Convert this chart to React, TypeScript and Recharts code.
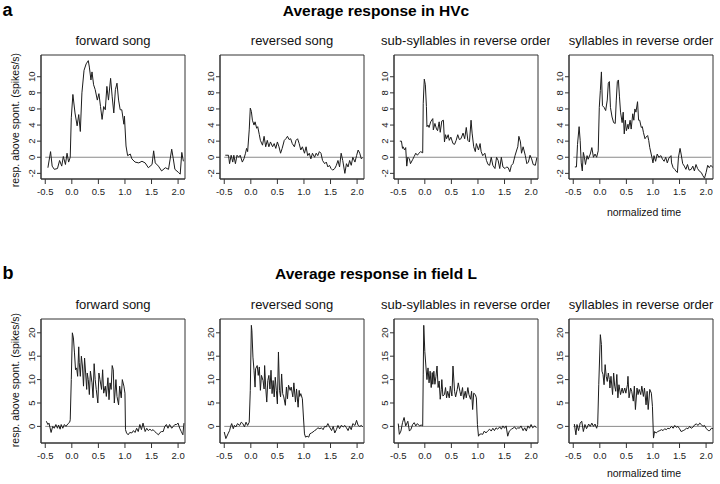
import { LineChart, Line, XAxis, YAxis, ReferenceLine, ReferenceArea } from "recharts"

// tick labels and panel titles
const timeTicks = [-0.5, 0, 0.5, 1, 1.5, 2]
const hvcTicks = [-2, 0, 2, 4, 6, 8, 10]
const fieldLTicks = [0, 5, 10, 15, 20]
const stimulusNames = ["forward song", "reversed song", "sub-syllables in reverse order", "syllables in reverse order"]

// [normalized time, response above spontaneous (spikes/s)]
// --- HVc ---
const hvcForward = [
  [-0.45, -1.3], [-0.4, 0.7], [-0.37, -1.1], [-0.33, -1.5], [-0.27, -1.4], [-0.23, -0.4], [-0.19, -1.1], [-0.16, 0.1],
  [-0.12, -0.9], [-0.09, 0.5], [-0.06, -0.6], [-0.03, 0.0], [-0.01, 4.9], [0.02, 7.8], [0.06, 5.5], [0.1, 3.9],
  [0.13, 5.3], [0.16, 3.2], [0.19, 8.0], [0.23, 10.8], [0.27, 11.6], [0.31, 12.0], [0.33, 11.2], [0.36, 9.6],
  [0.38, 10.6], [0.41, 9.0], [0.44, 8.4], [0.48, 7.1], [0.51, 7.9], [0.54, 6.3], [0.57, 4.7], [0.6, 6.3],
  [0.63, 5.9], [0.66, 8.8], [0.69, 7.1], [0.73, 9.8], [0.76, 7.5], [0.79, 5.5], [0.82, 8.4], [0.85, 9.2],
  [0.88, 7.1], [0.91, 5.9], [0.94, 5.9], [0.98, 4.1], [0.99, 5.1], [1.02, 1.4], [1.05, 0.2], [1.1, 0.4],
  [1.13, -0.2], [1.19, -0.6], [1.26, -0.7], [1.32, -0.5], [1.38, -0.7], [1.44, -1.3], [1.51, -0.9], [1.54, 0.8],
  [1.57, -0.7], [1.63, -1.1], [1.69, -1.7], [1.76, -1.3], [1.82, -1.5], [1.88, 1.0], [1.91, -0.2], [1.94, -1.5],
  [2.01, -1.9], [2.04, -2.1], [2.07, 0.6], [2.1, -0.5],
]
const hvcReversed = [
  [-0.48, 0.25], [-0.45, 0.25], [-0.42, 0.25], [-0.4, -0.8], [-0.37, 0.25], [-0.34, -0.6], [-0.32, 0.25], [-0.29, -0.8],
  [-0.26, 0.25], [-0.23, 0.0], [-0.2, 0.25], [-0.16, -0.6], [-0.13, -0.2], [-0.1, 0.5], [-0.08, 1.1], [-0.06, 0.7],
  [-0.03, 3.4], [-0.01, 6.1], [0.01, 5.7], [0.03, 4.6], [0.06, 4.0], [0.08, 4.4], [0.11, 3.6], [0.13, 3.8],
  [0.16, 2.8], [0.18, 2.1], [0.22, 1.5], [0.25, 2.6], [0.28, 1.3], [0.31, 2.1], [0.34, 1.3], [0.37, 1.9],
  [0.41, 1.3], [0.44, 1.7], [0.47, 1.1], [0.5, 1.9], [0.53, 1.3], [0.56, 0.5], [0.59, 1.1], [0.63, 2.1],
  [0.66, 2.3], [0.69, 2.6], [0.72, 2.2], [0.75, 2.3], [0.78, 1.7], [0.82, 1.3], [0.85, 2.1], [0.88, 2.3],
  [0.91, 1.7], [0.94, 0.9], [0.97, 1.3], [1.01, 0.5], [1.04, 1.3], [1.07, 0.2], [1.1, 0.5], [1.13, -0.2],
  [1.16, 0.5], [1.2, 0.0], [1.23, 0.5], [1.26, 0.2], [1.29, 0.7], [1.32, 0.5], [1.35, -0.4], [1.39, -0.8],
  [1.42, -0.6], [1.45, -1.2], [1.48, -1.0], [1.51, -1.4], [1.54, -1.6], [1.58, -1.4], [1.61, -1.0], [1.64, -0.4],
  [1.67, -1.2], [1.7, 0.5], [1.73, -0.4], [1.77, -2.0], [1.8, -0.8], [1.83, -1.2], [1.86, -0.4], [1.89, -1.0],
  [1.92, 0.0], [1.96, -0.6], [1.99, 0.2], [2.02, 0.9], [2.05, 0.5], [2.08, -0.2], [2.11, 0.0],
]
const hvcSubSyllables = [
  [-0.47, 2.0], [-0.44, 2.0], [-0.42, 1.1], [-0.41, 1.3], [-0.38, 0.9], [-0.36, 1.2], [-0.34, -1.1], [-0.32, 0.0],
  [-0.29, -0.2], [-0.27, -0.8], [-0.23, -0.3], [-0.2, 0.1], [-0.17, 0.5], [-0.14, 0.25], [-0.11, 0.5], [-0.08, 0.7],
  [-0.04, 0.55], [-0.03, 6.7], [-0.01, 9.7], [0.01, 9.0], [0.03, 6.3], [0.04, 3.8], [0.06, 4.0], [0.08, 3.7],
  [0.11, 4.4], [0.15, 4.8], [0.16, 3.4], [0.19, 4.2], [0.22, 3.5], [0.24, 3.3], [0.27, 4.4], [0.29, 3.1],
  [0.32, 4.5], [0.35, 4.6], [0.37, 1.9], [0.39, 2.8], [0.41, 2.3], [0.44, 2.8], [0.46, 2.1], [0.49, 2.5],
  [0.53, 1.7], [0.56, 1.6], [0.59, 2.1], [0.62, 2.8], [0.65, 2.2], [0.68, 2.3], [0.72, 3.0], [0.75, 2.3],
  [0.78, 3.7], [0.81, 2.1], [0.84, 1.9], [0.87, 4.6], [0.89, 3.0], [0.92, 1.3], [0.95, 0.7], [0.97, 1.7],
  [1.01, 0.9], [1.04, 1.7], [1.06, 0.7], [1.09, 0.2], [1.13, 0.5], [1.16, -0.4], [1.19, -0.9], [1.22, -1.0],
  [1.25, 0.0], [1.28, -1.0], [1.32, -1.4], [1.35, 0.0], [1.38, -0.4], [1.41, -1.4], [1.44, 0.0], [1.47, -1.2],
  [1.51, -1.4], [1.54, -1.2], [1.57, -1.3], [1.6, -1.8], [1.63, -1.0], [1.66, -0.8], [1.7, 0.25], [1.73, 0.9],
  [1.75, 1.3], [1.77, 2.6], [1.8, 1.9], [1.82, 0.5], [1.85, 1.3], [1.89, 0.25], [1.92, -0.8], [1.95, -0.6],
  [1.98, 0.25], [2.01, -0.2], [2.04, -0.9], [2.08, -1.0], [2.11, 0.0],
]
const hvcSyllables = [
  [-0.47, -1.2], [-0.44, -1.2], [-0.42, 1.6], [-0.39, 3.8], [-0.37, 2.1], [-0.35, -0.7], [-0.33, -1.7], [-0.31, 0.6],
  [-0.29, 0.0], [-0.27, -0.9], [-0.24, 0.2], [-0.22, -0.25], [-0.18, 0.4], [-0.15, 1.2], [-0.12, 0.0], [-0.09, 0.4],
  [-0.06, 0.0], [-0.03, 0.8], [-0.01, 6.2], [0.01, 8.3], [0.03, 10.6], [0.05, 6.4], [0.08, 6.2], [0.11, 5.8],
  [0.14, 7.1], [0.16, 9.2], [0.18, 9.4], [0.2, 6.2], [0.23, 5.0], [0.26, 4.3], [0.29, 4.2], [0.31, 7.1],
  [0.33, 9.4], [0.35, 9.6], [0.37, 7.5], [0.39, 5.6], [0.42, 4.3], [0.44, 5.6], [0.46, 2.9], [0.48, 4.6],
  [0.5, 3.3], [0.53, 4.1], [0.54, 3.5], [0.57, 4.6], [0.59, 3.5], [0.62, 5.4], [0.64, 4.6], [0.66, 6.0],
  [0.68, 5.6], [0.71, 6.9], [0.73, 4.6], [0.75, 4.6], [0.78, 3.7], [0.8, 3.8], [0.82, 3.1], [0.85, 2.3],
  [0.87, 2.5], [0.9, 2.7], [0.92, 2.1], [0.94, 1.2], [0.98, 0.0], [1.0, -0.7], [1.02, 0.2], [1.05, -0.5],
  [1.08, 0.4], [1.11, 0.0], [1.15, 0.2], [1.18, -0.25], [1.21, -0.5], [1.24, 0.0], [1.27, -0.7], [1.3, -0.1],
  [1.34, 0.2], [1.35, -0.7], [1.38, -1.3], [1.41, -1.5], [1.43, -1.7], [1.46, -1.9], [1.48, 0.0], [1.51, 1.1],
  [1.53, 0.4], [1.56, -0.8], [1.59, -1.1], [1.62, -1.5], [1.65, -0.9], [1.68, -1.6], [1.72, -1.5], [1.75, -1.1],
  [1.78, -1.7], [1.81, -0.9], [1.84, -1.4], [1.87, -1.7], [1.91, -1.9], [1.94, -2.3], [1.97, -2.6], [2.0, -1.9],
  [2.03, -1.0], [2.06, -1.3], [2.09, -1.0], [2.13, -1.3],
]
// --- field L ---
const fieldLForward = [
  [-0.48, 1.1], [-0.45, 0.4], [-0.43, 0.7], [-0.39, -1.3], [-0.36, 0.0], [-0.33, -0.4], [-0.3, 0.4], [-0.27, -0.4],
  [-0.25, 0.3], [-0.22, -0.6], [-0.2, 0.4], [-0.17, -0.4], [-0.14, 0.4], [-0.11, 0.0], [-0.07, 0.6], [-0.04, 0.9],
  [-0.03, 1.4], [-0.01, 10.0], [0.01, 20.0], [0.03, 18.9], [0.05, 15.7], [0.07, 12.1], [0.09, 12.5], [0.11, 10.7],
  [0.13, 17.0], [0.14, 13.6], [0.16, 10.7], [0.18, 15.0], [0.2, 12.9], [0.22, 8.6], [0.24, 14.6], [0.26, 11.4],
  [0.28, 7.9], [0.29, 11.4], [0.31, 10.0], [0.33, 6.8], [0.35, 11.8], [0.38, 9.3], [0.4, 6.1], [0.42, 13.4],
  [0.44, 10.0], [0.46, 7.9], [0.49, 5.0], [0.51, 11.4], [0.53, 10.0], [0.56, 7.9], [0.58, 12.1], [0.6, 7.1],
  [0.63, 8.6], [0.65, 6.4], [0.68, 10.4], [0.7, 5.7], [0.72, 9.3], [0.74, 7.9], [0.76, 13.0], [0.78, 12.1],
  [0.8, 5.0], [0.83, 10.0], [0.85, 6.4], [0.88, 4.6], [0.9, 8.6], [0.93, 6.1], [0.95, 10.0], [0.98, 8.6],
  [1.0, 7.1], [1.01, -0.7], [1.03, -1.4], [1.06, -1.8], [1.09, -1.3], [1.13, -1.4], [1.16, -0.9], [1.19, -1.3],
  [1.22, -0.4], [1.25, -1.1], [1.28, 0.4], [1.31, -0.7], [1.34, 0.7], [1.38, -1.1], [1.41, -0.4], [1.44, -0.9],
  [1.47, -0.6], [1.5, -0.9], [1.53, -0.7], [1.56, -1.1], [1.59, -1.4], [1.63, -1.8], [1.66, -1.3], [1.69, -1.1],
  [1.72, -1.1], [1.75, 0.0], [1.78, 0.4], [1.81, -0.4], [1.84, 0.4], [1.88, -0.4], [1.91, 0.0], [1.94, 0.4],
  [1.97, 0.4], [2.0, 0.7], [2.03, -0.4], [2.06, -1.1], [2.09, -1.8], [2.11, 0.7],
]
const fieldLReversed = [
  [-0.5, -1.2], [-0.47, -2.6], [-0.43, -1.6], [-0.4, -0.9], [-0.38, 0.0], [-0.36, 0.6], [-0.33, -0.5], [-0.31, 0.2],
  [-0.28, -0.1], [-0.25, 0.6], [-0.21, 0.2], [-0.18, 0.9], [-0.15, 0.6], [-0.12, -0.1], [-0.09, 0.9], [-0.06, 0.2],
  [-0.03, 0.9], [-0.01, 7.7], [0.01, 21.6], [0.02, 20.5], [0.04, 14.8], [0.06, 12.0], [0.08, 8.4], [0.09, 12.3],
  [0.12, 13.0], [0.14, 10.9], [0.16, 12.7], [0.18, 7.7], [0.2, 10.9], [0.23, 9.8], [0.25, 8.0], [0.26, 13.0],
  [0.28, 8.4], [0.3, 5.2], [0.32, 9.8], [0.34, 10.9], [0.36, 8.0], [0.38, 12.0], [0.4, 7.0], [0.42, 9.8],
  [0.44, 6.3], [0.46, 10.5], [0.48, 7.7], [0.5, 4.8], [0.52, 15.9], [0.54, 7.7], [0.56, 6.3], [0.58, 11.2],
  [0.6, 7.0], [0.62, 6.3], [0.65, 4.5], [0.67, 8.4], [0.69, 5.9], [0.71, 8.8], [0.74, 7.7], [0.76, 8.4],
  [0.79, 6.3], [0.81, 9.3], [0.84, 5.2], [0.86, 8.0], [0.89, 4.1], [0.91, 7.7], [0.92, 6.4], [0.94, 7.0],
  [0.97, 5.9], [0.99, 2.0], [1.01, -1.6], [1.03, -2.3], [1.06, -2.1], [1.09, -2.3], [1.11, -1.6], [1.14, -1.4],
  [1.17, -1.2], [1.2, -0.9], [1.23, -0.7], [1.26, -0.3], [1.3, -0.5], [1.33, -0.3], [1.36, -0.7], [1.39, 0.0],
  [1.42, -0.1], [1.45, 0.6], [1.48, -0.1], [1.52, -0.9], [1.55, 0.0], [1.58, -1.4], [1.61, -0.7], [1.64, 0.2],
  [1.67, -0.5], [1.7, 0.2], [1.74, -0.1], [1.77, 0.2], [1.8, -0.3], [1.83, -0.9], [1.86, 0.0], [1.89, -0.7],
  [1.92, 0.6], [1.96, 0.2], [1.99, 1.3], [2.02, 0.2], [2.05, 0.0], [2.08, 0.2], [2.11, -0.1],
]
const fieldLSubSyllables = [
  [-0.5, 0.6], [-0.48, -1.7], [-0.45, -1.0], [-0.42, 0.8], [-0.39, 1.9], [-0.36, 0.1], [-0.32, 1.1], [-0.29, -1.0],
  [-0.26, -0.6], [-0.23, 0.4], [-0.2, 0.8], [-0.17, 0.1], [-0.14, 0.6], [-0.1, 0.1], [-0.07, 0.3], [-0.04, 0.1],
  [-0.03, 11.0], [-0.02, 21.6], [0.0, 16.0], [0.02, 12.9], [0.04, 10.0], [0.06, 12.5], [0.08, 9.3], [0.1, 11.8],
  [0.12, 8.3], [0.14, 11.5], [0.15, 9.0], [0.17, 11.8], [0.19, 9.0], [0.21, 10.7], [0.23, 12.9], [0.25, 8.3],
  [0.27, 9.7], [0.29, 5.8], [0.31, 7.9], [0.32, 10.0], [0.34, 6.5], [0.37, 6.8], [0.39, 8.3], [0.41, 6.1],
  [0.43, 7.5], [0.46, 6.1], [0.48, 8.6], [0.51, 6.5], [0.53, 12.9], [0.56, 7.5], [0.58, 6.3], [0.61, 7.9],
  [0.63, 9.3], [0.66, 7.5], [0.68, 6.5], [0.71, 8.3], [0.73, 5.8], [0.76, 7.5], [0.78, 6.1], [0.81, 8.3],
  [0.83, 6.8], [0.86, 5.8], [0.88, 7.5], [0.9, 3.6], [0.92, 7.1], [0.95, 6.8], [0.97, 6.1], [0.99, 0.4],
  [1.01, -2.1], [1.03, -1.7], [1.06, -1.6], [1.09, -1.7], [1.12, -1.0], [1.15, -1.4], [1.19, -0.9], [1.22, -0.6],
  [1.25, -1.0], [1.28, -0.4], [1.31, -0.9], [1.34, -0.3], [1.37, -0.6], [1.41, -0.1], [1.44, -0.6], [1.47, 0.1],
  [1.5, -0.4], [1.53, 0.1], [1.56, -2.1], [1.59, -1.0], [1.63, -0.6], [1.66, -0.4], [1.69, -0.1], [1.72, -0.6],
  [1.75, -0.3], [1.78, -0.4], [1.81, 0.1], [1.85, -0.9], [1.88, -0.3], [1.91, -1.0], [1.94, 0.1], [1.97, -0.4],
  [2.0, 0.4], [2.03, -0.3], [2.07, 0.1], [2.1, -0.3],
]
const fieldLSyllables = [
  [-0.48, 0.5], [-0.45, -1.8], [-0.43, 0.4], [-0.4, -0.9], [-0.37, 0.7], [-0.34, 1.1], [-0.31, -1.1], [-0.28, 0.4],
  [-0.25, -0.5], [-0.21, 0.5], [-0.18, 0.0], [-0.15, 0.7], [-0.12, 0.0], [-0.09, 0.5], [-0.06, -0.4], [-0.04, 0.4],
  [-0.02, 8.9], [0.01, 19.6], [0.03, 17.5], [0.04, 11.8], [0.06, 11.1], [0.08, 8.9], [0.1, 13.2], [0.12, 10.7],
  [0.14, 9.6], [0.16, 11.4], [0.18, 10.0], [0.19, 8.2], [0.21, 10.7], [0.24, 6.8], [0.26, 11.4], [0.28, 8.6],
  [0.3, 7.5], [0.32, 11.1], [0.34, 6.1], [0.36, 8.9], [0.39, 6.8], [0.42, 8.2], [0.44, 7.1], [0.47, 8.2],
  [0.49, 7.1], [0.52, 8.9], [0.53, 10.7], [0.55, 6.1], [0.58, 8.2], [0.6, 7.5], [0.63, 5.4], [0.65, 8.6],
  [0.67, 3.6], [0.7, 8.2], [0.72, 6.8], [0.74, 7.9], [0.77, 6.8], [0.79, 8.6], [0.82, 6.4], [0.84, 8.2],
  [0.87, 4.6], [0.89, 7.5], [0.91, 3.6], [0.94, 7.9], [0.97, 7.1], [0.99, 4.3], [1.01, -2.5], [1.03, -1.1],
  [1.06, -1.4], [1.09, -1.1], [1.13, -0.9], [1.16, -0.7], [1.19, -0.9], [1.22, -0.5], [1.25, -0.7], [1.28, -0.4],
  [1.31, -0.5], [1.35, 0.0], [1.38, -0.4], [1.41, 0.2], [1.44, -0.2], [1.47, 0.0], [1.5, -0.5], [1.53, -1.1],
  [1.57, -0.9], [1.6, -0.7], [1.63, -0.4], [1.66, -0.5], [1.69, 0.0], [1.72, -0.4], [1.75, -0.2], [1.79, 0.4],
  [1.82, 0.5], [1.85, 0.2], [1.88, 0.7], [1.91, 0.4], [1.94, 0.0], [1.97, 0.2], [2.0, -0.4], [2.04, -0.9],
  [2.07, -0.9], [2.1, -0.4], [2.13, -0.5],
]

const hvcSeries = [hvcForward, hvcReversed, hvcSubSyllables, hvcSyllables]
const fieldLSeries = [fieldLForward, fieldLReversed, fieldLSubSyllables, fieldLSyllables]

const X_DOMAIN = [-0.58, 2.13]
const HVC_DOMAIN = [-2.7, 12.7]
const FIELD_L_DOMAIN = [-3.55, 22.95]
const ZERO_FROM = -0.5
const ZERO_TO = 2.1

// layout
const boxLefts = [41, 220, 394, 569]
const columnClips = [[0, 205], [205, 378], [378, 550], [550, 720]]
const BOX_W = 144
const BOX_H = 124
const Y_AXIS_W = 30
const X_AXIS_H = 26
const FONT = "'Liberation Sans', Arial, Helvetica, sans-serif"

function YTick(props: any) {
  const { x, y, payload } = props
  return (
    <text x={x} y={y} dy="0.35em" textAnchor="middle" transform={`rotate(-90, ${x}, ${y})`} fontSize={9.5} fill="#222">
      {payload.value}
    </text>
  )
}

function Panel({ series, yDomain, yTicks, left, top }: any) {
  const data = series.map(([t, v]: number[]) => ({ t, v }))
  return (
    <div style={{ position: "absolute", left: left - Y_AXIS_W, top: top - 1 }}>
      <LineChart
        width={Y_AXIS_W + BOX_W + 2}
        height={1 + BOX_H + X_AXIS_H}
        data={data}
        margin={{ top: 1, right: 2, bottom: 0, left: 0 }}
      >
        <XAxis
          type="number"
          dataKey="t"
          domain={X_DOMAIN}
          ticks={timeTicks}
          interval={0}
          allowDataOverflow
          tickFormatter={(v: number) => v.toFixed(1)}
          height={X_AXIS_H}
          tickSize={5}
          tickMargin={4}
          stroke="#333"
          tick={{ fontSize: 9.5, fill: "#222" }}
        />
        <YAxis
          type="number"
          domain={yDomain}
          ticks={yTicks}
          interval={0}
          allowDataOverflow
          width={Y_AXIS_W}
          tickSize={4}
          tickMargin={5}
          stroke="#333"
          tick={YTick}
        />
        <ReferenceArea x1={X_DOMAIN[0]} x2={X_DOMAIN[1]} y1={yDomain[0]} y2={yDomain[1]} fill="none" stroke="#333" />
        <ReferenceLine segment={[{ x: ZERO_FROM, y: 0 }, { x: ZERO_TO, y: 0 }]} stroke="#8a8a8a" />
        <Line type="linear" dataKey="v" stroke="#1c1c1c" strokeWidth={1} dot={false} isAnimationActive={false} />
      </LineChart>
    </div>
  )
}

function PanelTitle({ text, col, top }: any) {
  const [c0, c1] = columnClips[col]
  const center = boxLefts[col] + BOX_W / 2
  return (
    <div style={{ position: "absolute", left: c0, top, width: c1 - c0, height: 18, overflow: "hidden" }}>
      <div
        style={{
          position: "absolute",
          left: center - c0 - 110,
          width: 220,
          textAlign: "center",
          fontSize: 13,
          lineHeight: "16px",
          whiteSpace: "nowrap",
          color: "#111",
        }}
      >
        {text}
      </div>
    </div>
  )
}

function Row({ series, yDomain, yTicks, boxTop, titleTop, heading, headingTop, letter, letterTop, xLabelTop, yLabelCenter }: any) {
  return (
    <>
      <div style={{ position: "absolute", left: 2.5, top: letterTop, fontSize: 18, fontWeight: "bold", lineHeight: "19px" }}>
        {letter}
      </div>
      <div
        style={{
          position: "absolute",
          left: 176,
          width: 400,
          top: headingTop,
          textAlign: "center",
          fontSize: 15.5,
          fontWeight: "bold",
          lineHeight: "18px",
        }}
      >
        {heading}
      </div>
      {stimulusNames.map((name, i) => (
        <PanelTitle key={name} text={name} col={i} top={titleTop} />
      ))}
      {series.map((s: number[][], i: number) => (
        <Panel key={i} series={s} yDomain={yDomain} yTicks={yTicks} left={boxLefts[i]} top={boxTop} />
      ))}
      <div
        style={{
          position: "absolute",
          left: 15 - 80,
          top: yLabelCenter - 7,
          width: 160,
          height: 14,
          lineHeight: "14px",
          fontSize: 10.5,
          textAlign: "center",
          whiteSpace: "nowrap",
          transform: "rotate(-90deg)",
          color: "#111",
        }}
      >
        resp. above spont. (spikes/s)
      </div>
      <div
        style={{
          position: "absolute",
          left: 644 - 60,
          width: 120,
          top: xLabelTop,
          textAlign: "center",
          fontSize: 10.5,
          lineHeight: "13px",
          color: "#111",
        }}
      >
        normalized time
      </div>
    </>
  )
}

export default function App() {
  return (
    <div
      style={{
        position: "absolute",
        left: 0,
        top: 0,
        width: 720,
        height: 484,
        background: "#fff",
        fontFamily: FONT,
        color: "#000",
        overflow: "hidden",
      }}
    >
      <Row
        series={hvcSeries}
        yDomain={HVC_DOMAIN}
        yTicks={hvcTicks}
        boxTop={55}
        titleTop={32.5}
        heading="Average response in HVc"
        headingTop={1.5}
        letter="a"
        letterTop={1}
        xLabelTop={206}
        yLabelCenter={120}
      />
      <Row
        series={fieldLSeries}
        yDomain={FIELD_L_DOMAIN}
        yTicks={fieldLTicks}
        boxTop={319}
        titleTop={297}
        heading="Average response in field L"
        headingTop={265}
        letter="b"
        letterTop={264}
        xLabelTop={466.5}
        yLabelCenter={380}
      />
    </div>
  )
}
